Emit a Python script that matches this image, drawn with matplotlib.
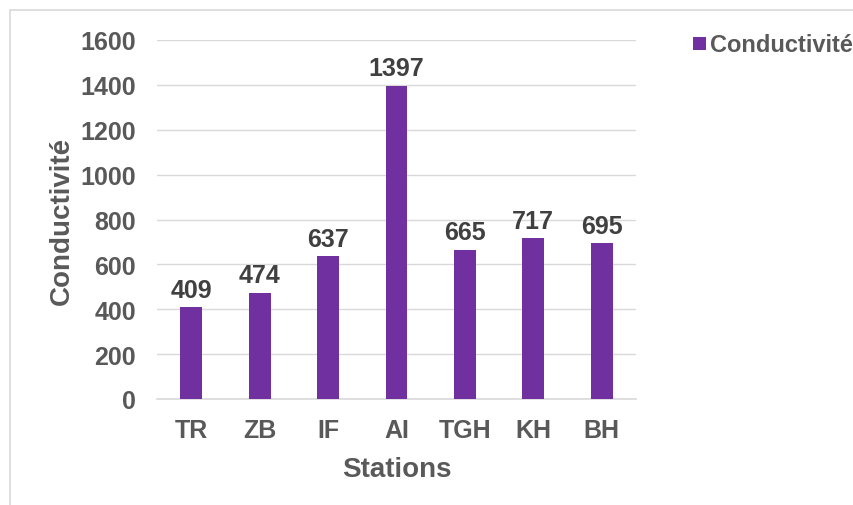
import matplotlib
matplotlib.use("Agg")
import matplotlib.pyplot as plt
from matplotlib.patches import Rectangle

stations = ["TR", "ZB", "IF", "AI", "TGH", "KH", "BH"]
conductivite = [409, 474, 637, 1397, 665, 717, 695]
yticks = [0, 200, 400, 600, 800, 1000, 1200, 1400, 1600]

W, H = 854, 506
plt.rcParams['font.family'] = ['Liberation Sans', 'DejaVu Sans']
fig = plt.figure(figsize=(W/100, H/100), dpi=100)

# outer chart border
fig.patches.append(Rectangle((10/W, -0.1), 1.2, 1 - 11/H + 0.1, transform=fig.transFigure,
                             fill=False, edgecolor='#d9d9d9', linewidth=1.2, zorder=0))

ax = fig.add_axes([157/W, 1 - 400/H, (636-157)/W, (400-41)/H])
x = list(range(len(stations)))
bars = ax.bar(x, conductivite, width=0.32, color='#7030A0', zorder=3)
ax.set_xlim(-0.5, len(stations) - 0.5)
ax.set_ylim(0, 1600)
ax.set_yticks(yticks)
ax.set_xticks(x)
ax.set_xticklabels(stations)
ax.grid(axis='y', color='#d9d9d9', linewidth=1.0, zorder=0)
for s in ['top', 'right', 'left']:
    ax.spines[s].set_visible(False)
ax.spines['bottom'].set_color('#d9d9d9')
ax.spines['bottom'].set_linewidth(1.2)
ax.tick_params(axis='both', length=0, labelsize=18, labelcolor='#595959')
ax.tick_params(axis='y', pad=15)
ax.tick_params(axis='x', pad=14)
for lbl in ax.get_xticklabels() + ax.get_yticklabels():
    lbl.set_fontweight('bold')

for xi, v in zip(x, conductivite):
    ax.annotate(str(v), (xi, v), xytext=(0, 4), textcoords='offset points',
                ha='center', va='bottom', fontsize=18, fontweight='bold', color='#404040')

ax.set_ylabel('Conductivité', fontsize=20, fontweight='bold', color='#595959', labelpad=4)
ax.set_xlabel('Stations', fontsize=20, fontweight='bold', color='#595959', labelpad=10)

# legend (cut off at right edge like reference)
fig.patches.append(Rectangle((693/W, 1 - 51/H), 13/W, 13/H, transform=fig.transFigure,
                             facecolor='#7030A0', edgecolor='none'))
fig.text(710/W, 1 - 45/H, 'Conductivité', fontsize=17, fontweight='bold', color='#595959',
         va='center', ha='left')

fig.savefig('out.png', dpi=100)
